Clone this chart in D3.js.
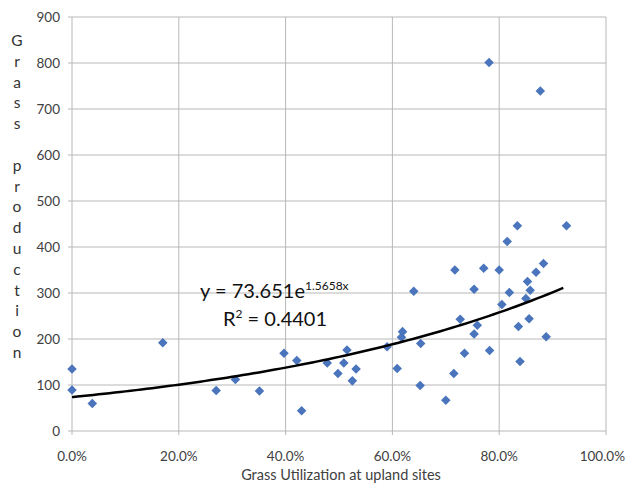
<!DOCTYPE html>
<html lang="en">
<head>
<meta charset="UTF-8">
<title>Grass production vs utilization</title>
<script src="https://d3js.org/d3.v7.min.js"></script>
<style>
    body { margin: 0; background: #fff; }
    svg { display: block; font-family: Lato, "Open Sans", sans-serif; }
</style>
</head>
<body>
<div id="chart"></div>
<script>
// grass utilization at upland sites (fraction) and grass production
var utilization = [0.000, 0.000, 0.038, 0.170, 0.270, 0.306, 0.351, 0.397, 0.421, 0.430,
                   0.478, 0.498, 0.509, 0.515, 0.525, 0.532, 0.590, 0.609, 0.617, 0.619,
                   0.640, 0.652, 0.653, 0.700, 0.715, 0.717, 0.727, 0.735, 0.753, 0.753,
                   0.759, 0.771, 0.781, 0.782, 0.800, 0.805, 0.815, 0.819, 0.834, 0.836,
                   0.839, 0.850, 0.853, 0.856, 0.858, 0.869, 0.877, 0.883, 0.888, 0.926];
var production  = [135, 89, 60, 192, 88, 112, 87, 169, 153, 44,
                   148, 125, 148, 176, 109, 135, 183, 136, 204, 216,
                   304, 99, 190, 67, 125, 350, 243, 169, 308, 211,
                   230, 354, 801, 175, 350, 275, 412, 301, 446, 227,
                   151, 288, 325, 244, 306, 345, 739, 364, 205, 446];

var yTicks = [0, 100, 200, 300, 400, 500, 600, 700, 800, 900];
var xTicks = [0, 0.2, 0.4, 0.6, 0.8, 1.0];
var trendA = 73.651, trendB = 1.5658;
var yLabelLetters = "Grass production".split("");

var width = 627, height = 487;
var margin = {top: 17, right: 21, bottom: 56, left: 72};

var svg = d3.select("#chart").append("svg")
    .attr("width", width)
    .attr("height", height);

var x = d3.scaleLinear().domain([0, 1]).range([margin.left, width - margin.right]);
var y = d3.scaleLinear().domain([0, 900]).range([height - margin.bottom, margin.top]);

// gridlines
svg.append("g").selectAll("line.h")
    .data(yTicks).enter().append("line")
    .attr("x1", x(0) - 4).attr("x2", x(1))
    .attr("y1", function(d) { return y(d); })
    .attr("y2", function(d) { return y(d); })
    .style("stroke", "#b8b8b8").style("stroke-width", 1);

svg.append("g").selectAll("line.v")
    .data(xTicks).enter().append("line")
    .attr("x1", function(d) { return x(d); })
    .attr("x2", function(d) { return x(d); })
    .attr("y1", y(900)).attr("y2", y(0) + 4)
    .style("stroke", "#b8b8b8").style("stroke-width", 1);

// tick labels
svg.append("g").selectAll("text")
    .data(yTicks).enter().append("text")
    .attr("x", x(0) - 12)
    .attr("y", function(d) { return y(d) + 5; })
    .attr("text-anchor", "end")
    .attr("font-size", 13.5)
    .style("fill", "#404040")
    .text(function(d) { return d; });

// last label sits against the right edge, so anchor it at the end
svg.append("g").selectAll("text")
    .data(xTicks).enter().append("text")
    .attr("x", function(d) { return d === 1 ? width - 2 : x(d); })
    .attr("y", y(0) + 30)
    .attr("text-anchor", function(d) { return d === 1 ? "end" : "middle"; })
    .attr("font-size", 13.5)
    .style("fill", "#404040")
    .text(function(d) { return d3.format(".1%")(d); });

// axis titles
svg.append("text")
    .attr("x", (x(0) + x(1)) / 2 + 2)
    .attr("y", height - 7)
    .attr("text-anchor", "middle")
    .attr("font-size", 14.5)
    .style("fill", "#404040")
    .text("Grass Utilization  at upland sites");

svg.append("g").selectAll("text")
    .data(yLabelLetters).enter().append("text")
    .attr("x", 17)
    .attr("y", function(d, i) { return 46 + i * 20.8; })
    .attr("text-anchor", "middle")
    .attr("font-size", 15.5)
    .style("fill", "#333")
    .text(function(d) { return d; });

// points
var pts = utilization.map(function(u, i) { return {u: u, v: production[i]}; });
svg.append("g").selectAll("path")
    .data(pts).enter().append("path")
    .attr("d", d3.symbol().type(d3.symbolDiamond2).size(58))
    .attr("transform", function(d) { return "translate(" + x(d.u) + "," + y(d.v) + ")"; })
    .style("fill", "#4a74bb");

// exponential trend line
var trendX = d3.range(0, 0.9261, 0.01);
var line = d3.line()
    .x(function(d) { return x(d); })
    .y(function(d) { return y(trendA * Math.exp(trendB * d)); })
    .curve(d3.curveMonotoneX);
svg.append("path")
    .datum(trendX)
    .attr("d", line)
    .style("fill", "none")
    .style("stroke", "#000")
    .style("stroke-width", 2.5);

// equation
var eq = svg.append("text")
    .attr("x", 200).attr("y", 298)
    .attr("font-size", 20)
    .style("fill", "#111");
eq.append("tspan").text("y = 73.651e");
eq.append("tspan").attr("font-size", 12).attr("dy", -8).text("1.5658x");

var r2 = svg.append("text")
    .attr("x", 223).attr("y", 326)
    .attr("font-size", 20)
    .style("fill", "#111");
r2.append("tspan").text("R");
r2.append("tspan").attr("font-size", 12).attr("dy", -8).text("2");
r2.append("tspan").attr("dy", 8).text(" = 0.4401");
</script>
</body>
</html>
